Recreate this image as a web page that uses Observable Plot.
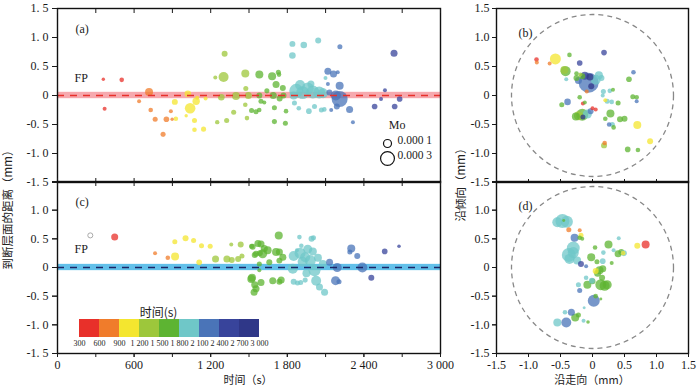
<!DOCTYPE html>
<html><head><meta charset="utf-8">
<script src="https://cdn.jsdelivr.net/npm/d3@7"></script>
<script src="https://cdn.jsdelivr.net/npm/@observablehq/plot@0.6"></script>
<style>
body{margin:0;background:#fff;}
#chart{position:relative;width:700px;height:385px;overflow:hidden;background:#fff;}
#chart svg{position:absolute;left:0;top:0;}
.lbl{position:absolute;font-family:"Noto Sans CJK SC",sans-serif;font-size:11.5px;color:#222;white-space:nowrap;line-height:1;}
</style></head><body>
<div id="chart">
  <div class="lbl" style="left:8px;top:207px;transform:translate(-50%,-50%) rotate(-90deg);">到断层面的距离（mm）</div>
  <div class="lbl" style="left:461px;top:182px;transform:translate(-50%,-50%) rotate(-90deg);">沿倾向（mm）</div>
  <div class="lbl" style="left:248px;top:379px;transform:translate(-50%,-50%);font-size:11px;">时间（s）</div>
  <div class="lbl" style="left:592px;top:379px;transform:translate(-50%,-50%);font-size:11px;">沿走向（mm）</div>
</div>
<script>
// ---------- scales / legend data ----------
const timeBreaks = [300, 600, 900, 1200, 1500, 1800, 2100, 2400, 2700, 3000];
const timeColors = ["#e8302a", "#f07c2b", "#f4e62f", "#9dc73b", "#5db432", "#6fc7c8", "#4a74b8", "#38449b", "#2f3788"];
const timeTicks = [0, 600, 1200, 1800, 2400, 3000];
const timeMinorTicks = [0, 300, 600, 900, 1200, 1500, 1800, 2100, 2400, 2700, 3000];
const distTicks = [-1.5, -1, -0.5, 0, 0.5, 1, 1.5];
const distTicksLower = [-1.5, -1, -0.5, 0, 0.5, 1];
const moLegendVals = [1, 3];            // in units of 1e-4
const moLegendLabels = ["0.000 1", "0.000 3"];
const fpBand = [{lo: -0.055, hi: 0.055}];
const faultCenter = [{x: 0, y: 0}];

// ---------- panel (a): distance to fault plane vs time ----------
const aTime = [359,503,369,717,639,730,765,853,888,898,827,927,919,1021,1039,1086,1094,1160,1008,1073,1073,1144,
  1309,1301,1236,1283,1398,1380,1325,1251,1471,1475,1471,1484,1581,1681,1730,1735,1712,1765,1495,1581,1690,1770,
  1594,1520,1555,1580,1699,1790,1699,1785,1640,1740,1620,
  1840,1929,2042,1840,1870,1920,1960,2000,2050,1900,2080,1850,1985,1856,1890,1969,2013,2067,2090,2099,
  2118,2162,2195,2212,2210,2118,2130,2210,2188,2144,2288,2314,2180,
  2636,2565,2534,2484,2680,2641];
const aDist = [0.28,0.27,-0.23,0.06,-0.10,-0.25,-0.41,-0.41,-0.27,-0.41,-0.67,-0.40,-0.11,0.03,-0.22,-0.10,-0.04,-0.05,-0.35,-0.43,-0.59,-0.58,
  0.72,0.32,0.31,-0.03,-0.01,-0.29,-0.43,-0.46,0.38,0.12,-0.16,-0.39,0.36,0.33,0.40,0.36,0.19,0.13,0.0,0.0,0.0,0.0,
  -0.10,-0.26,-0.28,-0.25,-0.21,-0.27,-0.45,-0.48,0.08,-0.05,-0.12,
  0.89,0.87,0.95,0.69,0.08,0.05,0.12,0.06,0.05,0.18,0.04,0.0,0.20,-0.13,-0.22,-0.27,-0.19,-0.25,-0.24,0.30,
  0.42,0.37,0.40,0.84,0.17,0.20,0.05,-0.06,-0.19,-0.25,-0.24,-0.46,0.0,
  0.73,0.09,-0.06,-0.19,-0.06,-0.19];
const aMo = [0.18,0.33,0.25,1.0,0.25,0.33,0.4,0.5,0.25,0.18,0.4,0.33,0.56,0.68,1.75,0.85,0.25,0.25,0.18,0.4,0.33,0.4,
  0.56,1.56,0.25,0.68,1.0,0.4,0.4,0.3,1.0,0.4,0.33,0.33,1.0,1.0,0.4,0.33,0.77,0.56,0.77,0.56,0.77,0.56,
  0.4,0.4,0.4,0.33,0.4,0.33,0.4,0.4,0.4,0.56,0.25,
  0.56,0.68,0.56,0.68,3.06,2.6,2.25,2.6,2.25,1.56,1.56,1.0,0.77,0.4,0.33,0.5,0.4,0.4,0.33,0.25,
  0.77,0.77,0.25,0.4,1.0,0.25,0.56,4.0,0.56,0.25,0.77,0.25,1.56,
  0.77,0.25,0.25,0.5,0.5,0.5];

// ---------- panel (c) ----------
const cOpenTime = [257];
const cOpenDist = [0.56];
const cOpenMo = [0.4];
const cTime = [448,764,864,921,919,1003,1066,1128,1196,1110,1238,1327,1361,1435,1365,1415,1445,1520,1545,1570,1585,1518,1545,1540,
  1733,1594,1529,1620,1646,1555,1607,1712,1738,1765,1581,1659,1738,1581,1524,1594,1555,1686,1752,1738,
  1895,1990,2005,1910,1875,1850,1900,1940,1980,1920,2000,1960,2040,1843,2013,2078,2026,2052,2092,1850,1880,1905,1940,1950,
  2301,2290,2348,2131,2191,2388,2178,2205,
  2458,2563,2675];
const cDist = [0.53,0.25,0.17,0.19,0.45,0.51,0.47,0.38,0.37,0.09,0.15,0.15,0.40,0.40,0.13,0.15,0.20,0.37,0.22,0.42,0.25,-0.20,-0.30,-0.43,
  0.56,0.41,0.36,0.33,0.30,0.24,0.24,0.27,0.27,0.18,0.06,0.09,0.12,-0.05,-0.18,-0.26,-0.37,-0.23,-0.22,-0.25,
  0.53,0.50,0.52,0.38,0.30,0.20,0.25,0.18,0.12,0.10,0.28,0.32,0.17,-0.02,-0.05,0.06,-0.23,-0.34,-0.43,-0.25,-0.27,-0.26,-0.22,-0.10,
  0.33,0.27,0.20,0.09,0.0,0.0,-0.23,-0.25,
  -0.18,0.28,0.37];
const cMo = [0.77,0.25,0.33,1.0,0.4,0.56,0.4,0.4,0.4,0.5,0.77,0.77,0.25,0.56,0.56,0.56,0.4,0.4,0.56,0.77,0.56,1.0,0.77,0.77,
  1.0,0.77,0.56,0.77,1.0,0.56,1.27,1.0,0.77,0.77,0.4,0.56,0.56,0.25,1.0,0.77,0.77,0.77,0.77,0.56,
  0.33,0.56,0.4,0.33,0.25,1.56,1.9,1.56,1.9,1.56,1.0,1.27,1.0,1.56,2.25,1.0,1.56,0.77,0.77,0.56,0.4,0.4,0.4,1.0,
  1.0,0.4,0.56,0.77,1.27,1.56,1.27,0.4,
  0.56,0.5,0.2];

// ---------- panel (b): position on the fault plane ----------
const bStrike = [-0.875,-0.87,-0.67,-0.58,-0.36,-0.20,0.18,-0.42,-0.44,-0.25,-0.19,-0.41,
  -0.06,-0.04,-0.02,0.10,-0.22,-0.25,0.14,-0.12,0.05,-0.16,
  0.64,0.57,-0.39,-0.48,-0.20,-0.09,-0.15,-0.12,0.17,0.27,0.32,0.16,0.20,0.23,0.30,0.40,0.63,0.69,0.69,
  -0.16,-0.22,-0.08,-0.03,-0.15,-0.26,0.0,0.05,0.28,0.20,0.43,0.50,0.26,0.31,0.33,0.70,0.90,0.19,0.18,0.55,0.71];
const bDip = [0.62,0.57,0.55,0.63,0.70,0.56,0.74,0.42,0.44,0.38,0.36,0.28,
  0.22,0.32,0.16,0.35,0.26,0.30,0.30,0.34,0.27,0.33,
  0.40,0.28,-0.11,-0.16,-0.03,0.07,-0.14,-0.12,0.07,0.08,0.10,0.0,-0.08,-0.10,-0.11,-0.13,-0.02,-0.03,-0.10,
  -0.33,-0.35,-0.32,-0.27,-0.37,-0.36,-0.22,-0.24,-0.31,-0.40,-0.41,-0.40,-0.50,-0.50,-0.55,-0.51,-0.79,-0.82,-0.86,-0.93,-0.94];
const bTime = [450,750,750,1050,1650,2550,2550,1650,1350,1650,1350,1950,
  2250,2850,2850,1950,2250,1650,1950,2550,1950,1650,
  2250,1650,2250,1650,1650,750,450,1650,1950,1950,1650,1950,1050,1950,1950,1650,1650,1650,2250,
  1650,1350,1950,2250,2850,1650,450,450,1650,1650,1650,1650,2250,1950,1650,1050,1050,750,1350,1650,1650];
const bMo = [0.33,0.25,0.25,1.9,0.33,0.5,0.5,1.56,1.0,0.33,0.25,0.25,
  6.25,0.77,0.56,1.0,0.77,0.56,0.56,1.0,1.56,0.56,
  0.33,0.5,0.68,0.4,0.33,0.25,0.25,0.25,0.4,0.33,0.25,0.25,0.25,0.4,0.33,0.4,0.4,0.33,0.25,
  2.25,1.27,1.27,0.56,0.4,1.0,0.25,0.25,1.0,0.33,0.56,0.56,0.33,0.4,0.33,1.0,0.56,0.33,0.56,0.5,0.33];

// ---------- panel (d) ----------
const dStrike = [-0.47,-0.40,-0.55,-0.45,-0.37,-0.20,-0.18,-0.20,-0.16,-0.28,0.41,-0.30,-0.37,-0.30,-0.36,-0.24,-0.18,-0.10,
  -0.02,0.04,0.25,0.17,0.33,0.40,0.45,0.49,0.48,0.70,0.83,0.30,0.07,0.16,0.11,0.16,0.08,0.05,0.15,0.0,-0.01,-0.10,
  0.13,0.19,0.23,-0.08,-0.20,-0.22,0.02,0.05,0.13,-0.13,-0.33,-0.43,-0.27,-0.22,-0.41,-0.55,-0.14,-0.07];
const dDip = [0.81,0.80,0.79,0.82,0.66,0.65,0.56,0.52,0.50,0.52,0.51,0.34,0.22,0.26,0.15,0.12,0.06,0.02,
  0.18,0.35,0.40,0.26,0.30,0.24,0.27,0.25,0.25,0.38,0.40,0.08,0.10,0.11,-0.05,-0.02,-0.10,-0.06,-0.18,-0.24,-0.23,-0.18,
  -0.30,-0.32,-0.30,-0.30,-0.40,-0.30,-0.58,-0.50,-0.55,-0.70,-0.78,-0.78,-0.87,-0.83,-0.96,-0.96,-0.93,-0.95];
const dTime = [1950,1950,1950,1650,750,750,1050,1650,1650,2250,1950,1950,1950,1950,1950,1950,2550,2250,
  1650,1650,1650,1950,1950,1650,1650,1950,1050,1050,450,1650,1650,1950,1650,1650,1650,1050,1650,1650,1950,1950,
  1650,1650,1650,1650,2250,1950,2250,1650,1650,1950,2250,1950,1650,1650,2250,1950,1950,1650];
const dMo = [3.06,2.25,1.56,0.14,0.4,0.25,0.4,0.33,0.25,1.0,0.25,2.6,3.06,1.9,1.56,1.0,0.56,0.25,
  1.0,0.33,1.0,0.33,0.25,0.77,0.56,0.56,0.33,0.56,1.0,0.25,0.4,0.5,1.0,0.77,0.77,0.56,0.56,0.56,0.56,0.33,
  1.9,1.56,1.27,1.0,0.4,0.4,2.25,0.33,0.14,0.14,0.77,0.33,1.0,0.4,1.56,1.0,0.25,0.2];

// ---------- helpers ----------
const serif = "'Liberation Serif','Times New Roman',serif";
const cjk = "'Noto Sans CJK SC',sans-serif";
const baseStyle = {background: "transparent", fontFamily: serif, fontSize: "12px", color: "#1a1a1a", overflow: "visible"};
const colorScale = {type: "threshold", domain: timeBreaks.slice(1, -1), range: timeColors};
const rScale = {type: "sqrt", domain: [0, 1], range: [0, 4]};
const fmtLeft = d => d === 0 ? "0" : d.toFixed(1).replace(".", ". ");
const fmtRight = d => d === 0 ? "0" : d.toFixed(1);
const fmtThousand = d => d >= 1000 ? `${Math.floor(d / 1000)} ${String(d % 1000).padStart(3, "0")}` : `${d}`;
const zip = (xs, ys, ts, ms) => xs.map((x, i) => ({x, y: ys[i], t: ts[i], m: ms[i]}));

const aData = zip(aTime, aDist, aTime, aMo);
const cData = zip(cTime, cDist, cTime, cMo);
const cOpen = zip(cOpenTime, cOpenDist, cOpenTime, cOpenMo);
const bData = zip(bStrike, bDip, bTime, bMo);
const dData = zip(dStrike, dDip, dTime, dMo);

const W = 700, H = 385;
const chart = document.getElementById("chart");

function timePanel({data, open, top, bottom, band, line, label, fpDy, bottomAxis, legend, yTicks}) {
  const marks = [
    Plot.rect(fpBand, {y1: "lo", y2: "hi", fill: band}),
    Plot.dot(data, {x: "x", y: "y", r: "m", fill: "t", fillOpacity: 0.75}),
  ];
  if (open) marks.push(Plot.dot(open, {x: "x", y: "y", r: "m", fill: "white", stroke: "#aaa", strokeWidth: 1}));
  marks.push(
    Plot.ruleY([0], {stroke: line, strokeDasharray: "7,6", strokeWidth: 1.6}),
    Plot.frame({stroke: "#111", strokeWidth: 1.4}),
    Plot.axisY({ticks: distTicks, tickSize: 5, fill: "none", label: null}),
    Plot.axisY({ticks: yTicks, tickFormat: fmtLeft, tickSize: 5, tickPadding: 4, label: null, fontSize: 12}),
    Plot.axisX({anchor: "top", ticks: timeMinorTicks, tickSize: -4, fill: "none", label: null}),
    Plot.text([label], {frameAnchor: "top-left", dx: 18, dy: 16, text: d => d, fontSize: 12}),
    Plot.text(["FP"], {frameAnchor: "left", dx: 17, dy: fpDy, text: d => d, fontSize: 12})
  );
  if (bottomAxis) {
    marks.push(
      Plot.axisX({anchor: "bottom", ticks: timeMinorTicks, tickSize: 4, fill: "none", label: null}),
      Plot.axisX({anchor: "bottom", ticks: timeTicks, tickSize: 4, tickPadding: 3, tickFormat: fmtThousand, label: null, fontSize: 12})
    );
  } else {
    marks.push(Plot.axisX({anchor: "bottom", ticks: timeMinorTicks, tickSize: -4, fill: "none", label: null}));
  }
  if (legend) {
    marks.push(
      Plot.text(["Mo"], {frameAnchor: "bottom-right", dx: -35, dy: -54, text: d => d, fontSize: 12}),
      Plot.dot([moLegendVals[0]], {frameAnchor: "bottom-right", dx: -53, dy: -39, r: d => d, stroke: "#111", strokeWidth: 1.2, fill: "none"}),
      Plot.dot([moLegendVals[1]], {frameAnchor: "bottom-right", dx: -53, dy: -24, r: d => d, stroke: "#111", strokeWidth: 1.2, fill: "none"}),
      Plot.text([moLegendLabels[0]], {frameAnchor: "bottom-right", dx: -43, dy: -39, text: d => d, textAnchor: "start", fontSize: 11.5}),
      Plot.text([moLegendLabels[1]], {frameAnchor: "bottom-right", dx: -43, dy: -24, text: d => d, textAnchor: "start", fontSize: 11.5})
    );
  }
  return Plot.plot({
    width: W, height: H, marginLeft: 57, marginRight: 260, marginTop: top, marginBottom: bottom,
    style: baseStyle,
    x: {domain: [0, 3000], label: null}, y: {domain: [-1.5, 1.5], label: null},
    r: rScale, color: colorScale,
    marks
  });
}

function planePanel({data, top, bottom, label, bottomAxis, yTicks}) {
  const marks = [
    Plot.dot(faultCenter, {x: "x", y: "y", r: 81, stroke: "#888", strokeDasharray: "5,4", strokeWidth: 1.3, fill: "none"}),
    Plot.dot(data, {x: "x", y: "y", r: "m", fill: "t", fillOpacity: 0.75}),
    Plot.frame({stroke: "#111", strokeWidth: 1.4}),
    Plot.axisY({ticks: distTicks, tickSize: 4, fill: "none", label: null}),
    Plot.axisY({ticks: yTicks, tickFormat: fmtRight, tickSize: 4, tickPadding: 3, label: null, fontSize: 12}),
    Plot.text([label], {frameAnchor: "top-left", dx: 22, dy: 20, text: d => d, fontSize: 12})
  ];
  if (bottomAxis) {
    marks.push(Plot.axisX({anchor: "bottom", ticks: distTicks, tickFormat: fmtRight, tickSize: 4, tickPadding: 3, label: null, fontSize: 12}));
  } else {
    marks.push(Plot.axisX({anchor: "bottom", ticks: distTicks, tickSize: -3, fill: "none", label: null}));
  }
  return Plot.plot({
    width: W, height: H, marginLeft: 496, marginRight: 12, marginTop: top, marginBottom: bottom,
    style: baseStyle,
    x: {domain: [-1.5, 1.5], label: null}, y: {domain: [-1.5, 1.5], label: null},
    r: rScale, color: colorScale,
    marks
  });
}

const colorbar = Plot.plot({
  width: W, height: H, marginLeft: 79, marginRight: 441, marginTop: 319, marginBottom: 48,
  style: baseStyle,
  x: {domain: [300, 3000], label: null}, y: {axis: null},
  color: colorScale,
  marks: [
    Plot.rect(timeBreaks.slice(0, -1), {x1: d => d, x2: (d, i) => timeBreaks[i + 1], fill: d => d}),
    Plot.axisX({ticks: timeBreaks, tickFormat: fmtThousand, tickSize: 0, tickPadding: 3, fontSize: 8, label: null}),
    Plot.text(["时间(s)"], {frameAnchor: "top", dx: -11, dy: -11, text: d => d, fontFamily: cjk, fontSize: 12})
  ]
});

chart.append(
  timePanel({data: aData, top: 8, bottom: 203, band: "#f6a9ae", line: "#e8302a", label: "(a)", fpDy: -17, bottomAxis: false, legend: true, yTicks: distTicks}),
  timePanel({data: cData, open: cOpen, top: 181, bottom: 32, band: "#62c0ea", line: "#1b2466", label: "(c)", fpDy: -18, bottomAxis: true, legend: false, yTicks: distTicksLower}),
  planePanel({data: bData, top: 8, bottom: 203, label: "(b)", bottomAxis: false, yTicks: distTicks}),
  planePanel({data: dData, top: 181, bottom: 32, label: "(d)", bottomAxis: true, yTicks: distTicksLower}),
  colorbar
);
</script>
</body></html>
